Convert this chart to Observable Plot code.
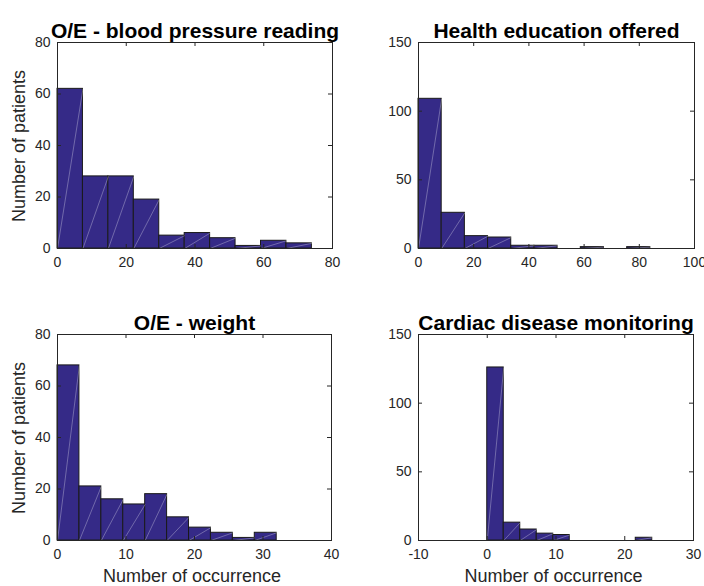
<!DOCTYPE html>
<html><head><meta charset="utf-8">
<script src="https://cdn.jsdelivr.net/npm/d3@7"></script>
<script src="https://cdn.jsdelivr.net/npm/@observablehq/plot@0.6"></script>
<style>
body{margin:0;background:#fff;}
#wrap{position:relative;width:704px;height:586px;overflow:hidden;font-family:'Liberation Sans',Arial,sans-serif;}
#wrap svg{position:absolute;overflow:visible;}
.lab{position:absolute;width:300px;height:18px;line-height:18px;font-size:18px;text-align:center;color:#262626;white-space:nowrap;}
</style></head><body><div id="wrap"></div>
<script>
// ---- data ----
const titles = ["O/E - blood pressure reading", "Health education offered", "O/E - weight", "Cardiac disease monitoring"];

const edgesBP = [0, 7.4, 14.8, 22.2, 29.6, 37, 44.4, 51.8, 59.2, 66.6, 74];
const countsBP = [62, 28, 28, 19, 5, 6, 4, 1, 3, 2];

const edgesHE = [0, 8.4, 16.8, 25.2, 33.6, 42, 50.4, 58.8, 67.2, 75.6, 84];
const countsHE = [109, 26, 9, 8, 2, 2, 0, 1, 0, 1];

const edgesW = [0, 3.2, 6.4, 9.6, 12.8, 16, 19.2, 22.4, 25.6, 28.8, 32];
const countsW = [68, 21, 16, 14, 18, 9, 5, 3, 1, 3];

const edgesCD = [0, 2.4, 4.8, 7.2, 9.6, 12, 14.4, 16.8, 19.2, 21.6, 24];
const countsCD = [126, 13, 8, 5, 4, 0, 0, 0, 0, 2];

const xTicksBP = [0, 20, 40, 60, 80];
const xTicksHE = [0, 20, 40, 60, 80, 100];
const xTicksW = [0, 10, 20, 30, 40];
const xTicksCD = [-10, 0, 10, 20, 30];
const yTicks80 = [0, 20, 40, 60, 80];
const yTicks150 = [0, 50, 100, 150];

const yLabel = "Number of patients";
const xLabel = "Number of occurrence";

// ---- layout ----
const panels = [
  {title: titles[0], edges: edgesBP, counts: countsBP, xTicks: xTicksBP, yTicks: yTicks80, left: 0, top: 0,
   m: {l: 57, r: 20, t: 42, b: 45}, yLab: true, xLab: false},
  {title: titles[1], edges: edgesHE, counts: countsHE, xTicks: xTicksHE, yTicks: yTicks150, left: 352, top: 0,
   m: {l: 66, r: 10, t: 42, b: 45}, yLab: false, xLab: false},
  {title: titles[2], edges: edgesW, counts: countsW, xTicks: xTicksW, yTicks: yTicks80, left: 0, top: 293,
   m: {l: 57, r: 21, t: 41, b: 46}, yLab: true, xLab: true},
  {title: titles[3], edges: edgesCD, counts: countsCD, xTicks: xTicksCD, yTicks: yTicks150, left: 352, top: 293,
   m: {l: 66, r: 11, t: 41, b: 46}, yLab: false, xLab: true}
];

const W = 352, H = 293;
const axisColor = "#262626";
const wrap = document.getElementById("wrap");

function addLabel(text, cx, cy, rotate) {
  const d = document.createElement("div");
  d.className = "lab";
  d.textContent = text;
  d.style.left = (cx - 150) + "px";
  d.style.top = (cy - 9) + "px";
  if (rotate) d.style.transform = "rotate(-90deg)";
  wrap.appendChild(d);
}

for (const p of panels) {
  const data = p.counts.map((c, i) => ({x1: p.edges[i], x2: p.edges[i + 1], y: c}));
  const pw = W - p.m.l - p.m.r, ph = H - p.m.t - p.m.b;
  const xd = [p.xTicks[0], p.xTicks[p.xTicks.length - 1]];
  const yd = [p.yTicks[0], p.yTicks[p.yTicks.length - 1]];
  const marks = [
    Plot.rectY(data, {x1: "x1", x2: "x2", y: "y", fill: "#352a87", stroke: "#1a1a1a", strokeWidth: 1}),
    Plot.link(data.filter(d => d.y > 0), {x1: "x1", y1: () => 0, x2: "x2", y2: "y",
      stroke: "#ffffff", strokeOpacity: 0.5, strokeWidth: 0.6}),
    Plot.frame({stroke: axisColor, strokeWidth: 1}),
    // inward ticks, all four sides
    Plot.ruleX(p.xTicks, {x: d => d, stroke: axisColor, insetTop: ph - 4}),
    Plot.ruleX(p.xTicks, {x: d => d, stroke: axisColor, insetBottom: ph - 4}),
    Plot.ruleY(p.yTicks, {y: d => d, stroke: axisColor, insetRight: pw - 4}),
    Plot.ruleY(p.yTicks, {y: d => d, stroke: axisColor, insetLeft: pw - 4}),
    Plot.axisX({ticks: p.xTicks, tickSize: 0, tickPadding: 9, anchor: "bottom", label: null,
      tickFormat: d => String(d), fill: axisColor, fontSize: 14}),
    Plot.axisY({ticks: p.yTicks, tickSize: 0, tickPadding: 7, anchor: "left", label: null,
      tickFormat: d => String(d), fill: axisColor, fontSize: 14}),
    Plot.text([p.title], {frameAnchor: "top", dy: -19.5, fontWeight: "bold", fontSize: 21, fill: "#000"})
  ];

  const svg = Plot.plot({
    width: W, height: H,
    marginLeft: p.m.l, marginRight: p.m.r, marginTop: p.m.t, marginBottom: p.m.b,
    x: {domain: xd},
    y: {domain: yd},
    style: {fontFamily: "'Liberation Sans', Arial, sans-serif", fontSize: "14px", background: "transparent", color: axisColor},
    marks
  });
  svg.style.left = p.left + "px";
  svg.style.top = p.top + "px";
  wrap.appendChild(svg);

  const fcx = p.left + p.m.l + pw / 2;
  const fcy = p.top + p.m.t + ph / 2;
  if (p.yLab) addLabel(yLabel, p.left + 19, fcy + 1, true);
  if (p.xLab) addLabel(xLabel, fcx - 2, p.top + H - 10, false);
}
</script>
</body></html>
